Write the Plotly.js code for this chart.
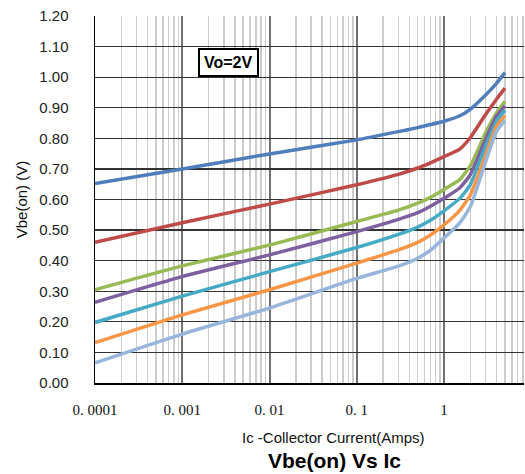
<!DOCTYPE html>
<html><head><meta charset="utf-8">
<script src="https://cdn.plot.ly/plotly-3.0.1.min.js"></script>
<style>html,body{margin:0;padding:0;background:#fff;}#chart{width:525px;height:474px;}</style>
</head><body><div id="chart"></div>
<script>
const current = [0.0001, 0.001, 0.01, 0.1, 0.3, 0.5, 0.7, 1, 1.5, 2, 3, 4, 5];
const curveA = [0.652, 0.700, 0.749, 0.795, 0.822, 0.835, 0.845, 0.856, 0.873, 0.895, 0.942, 0.980, 1.015];
const curveB = [0.460, 0.524, 0.585, 0.648, 0.682, 0.703, 0.720, 0.740, 0.764, 0.802, 0.878, 0.928, 0.964];
const curveC = [0.305, 0.383, 0.451, 0.528, 0.565, 0.588, 0.607, 0.633, 0.664, 0.709, 0.818, 0.883, 0.921];
const curveD = [0.264, 0.348, 0.419, 0.495, 0.535, 0.557, 0.578, 0.604, 0.637, 0.681, 0.797, 0.872, 0.906];
const curveE = [0.198, 0.284, 0.364, 0.443, 0.486, 0.510, 0.532, 0.563, 0.602, 0.648, 0.775, 0.856, 0.892];
const curveF = [0.132, 0.223, 0.305, 0.392, 0.435, 0.460, 0.484, 0.517, 0.563, 0.614, 0.745, 0.840, 0.874];
const curveG = [0.066, 0.160, 0.245, 0.342, 0.382, 0.408, 0.434, 0.474, 0.522, 0.576, 0.724, 0.823, 0.858];
const xTickVals = [0.0001, 0.001, 0.01, 0.1, 1];
const xTickText = ['0. 0001', '0. 001', '0. 01', '0. 1', '1'];
const yTickVals = [0, 0.1, 0.2, 0.3, 0.4, 0.5, 0.6, 0.7, 0.8, 0.9, 1.0, 1.1, 1.2];
const yTickText = ['0.00','0.10','0.20','0.30','0.40','0.50','0.60','0.70','0.80','0.90','1.00','1.10','1.20'];

const series = [curveA, curveB, curveC, curveD, curveE, curveF, curveG];
const colors = ['#4F7EBB', '#BE4B48', '#98B954', '#7D60A0', '#46AAC5', '#F79646', '#98B5DB'];
const traces = series.map((s, i) => ({
  x: current, y: s, type: 'scatter', mode: 'lines',
  line: {color: colors[i], width: 3.5, shape: 'spline', smoothing: 0.5},
  hoverinfo: 'skip', showlegend: false
}));

const layout = {
  width: 525, height: 474,
  margin: {l: 95, r: 1, t: 16, b: 91},
  paper_bgcolor: '#fff', plot_bgcolor: '#fff',
  showlegend: false,
  xaxis: {
    type: 'log', range: [-4, 0.917],
    tickmode: 'array', tickvals: xTickVals, ticktext: xTickText,
    tickfont: {family: 'Liberation Serif, serif', size: 15, color: '#111'},
    ticklabelstandoff: 12,
    showgrid: true, gridcolor: '#707070', gridwidth: 2,
    minor: {dtick: 'D1', showgrid: true, gridcolor: '#cccccc', gridwidth: 1.5},
    showline: true, linecolor: '#000', linewidth: 1.5,
    zeroline: false, ticks: ''
  },
  yaxis: {
    range: [0, 1.2],
    tickmode: 'array', tickvals: yTickVals, ticktext: yTickText,
    tickfont: {family: 'Liberation Sans, Arial, sans-serif', size: 15, color: '#222'},
    ticklabelstandoff: 22,
    showgrid: true, gridcolor: '#333', gridwidth: 1.3,
    showline: true, linecolor: '#000', linewidth: 1.5,
    zeroline: false, ticks: '',
    title: {text: 'Vbe(on) (V)', font: {family: 'Liberation Sans, Arial, sans-serif', size: 15, color: '#111'}, standoff: 8}
  },
  annotations: [
    {xref: 'paper', yref: 'paper', x: (228.5 - 95) / 429, y: (383 - 62.7) / 367,
     xanchor: 'center', yanchor: 'middle',
     text: '<b>Vo=2V</b>', showarrow: false,
     font: {family: 'Liberation Sans, Arial, sans-serif', size: 16, color: '#000'},
     bgcolor: '#fff', bordercolor: '#000', borderwidth: 2, borderpad: 4},
    {xref: 'paper', yref: 'paper', x: (524 - 95) / 429, y: (383 - 406) / 367,
     xanchor: 'left', yanchor: 'middle',
     text: '10', showarrow: false,
     font: {family: 'Liberation Serif, serif', size: 15, color: '#111'}},
    {xref: 'paper', yref: 'paper', x: (333 - 95) / 429, y: (383 - 437) / 367,
     xanchor: 'center', yanchor: 'middle',
     text: 'Ic -Collector Current(Amps)', showarrow: false,
     font: {family: 'Liberation Sans, Arial, sans-serif', size: 15, color: '#111'}},
    {xref: 'paper', yref: 'paper', x: (334 - 95) / 429, y: (383 - 460) / 367,
     xanchor: 'center', yanchor: 'middle',
     text: '<b>Vbe(on) Vs Ic</b>', showarrow: false,
     font: {family: 'Liberation Sans, Arial, sans-serif', size: 21, color: '#000'}}
  ]
};

Plotly.newPlot('chart', traces, layout, {staticPlot: true, displayModeBar: false});
</script>
</body></html>
